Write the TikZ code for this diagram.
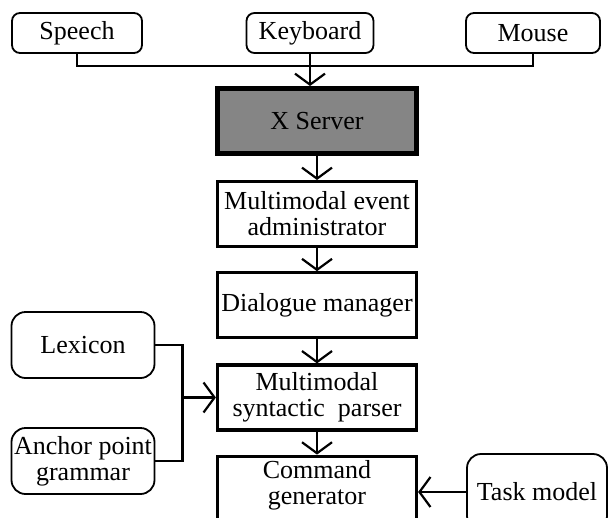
\documentclass[tikz,border=0pt]{standalone}
\usepackage{fontspec}
\setmainfont{Liberation Serif}
\usetikzlibrary{positioning,arrows.meta}

\begin{document}
\begin{tikzpicture}[
  x=1pt, y=1pt,
  every node/.style={font=\fontsize{26}{26}\selectfont},
  device/.style={draw, line width=1.8pt, rounded corners=8pt,
                 minimum height=40pt, inner sep=2pt},
  resource/.style={draw, line width=1.8pt, rounded corners=14pt,
                   minimum width=143pt, minimum height=66pt,
                   align=center, inner sep=0pt},
  module/.style={draw, line width=3.2pt, minimum width=199pt,
                 minimum height=65pt, align=center, inner sep=0pt},
  server/.style={module, line width=5pt, fill=black!48},
  link/.style={line width=2.2pt},
  arr/.style={link, -{Straight Barb[length=11pt, width=30pt]}}
]
  \path[use as bounding box, clip] (0,0) rectangle (609,-517);

  \node[device, minimum width=130pt] (speech) at (77,-33)  {Speech};
  \node[device, minimum width=127pt] (kbd)    at (310,-33) {Keyboard};
  \node[device, minimum width=134pt] (mouse)  at (533,-33) {Mouse};

  \node[server] (xsrv) at (317,-121) {X Server};
  \node[module, below=24pt of xsrv]   (mea)    {Multimodal event\\administrator};
  \node[module, below=23pt of mea]    (dlg)    {Dialogue manager};
  \node[module, below=24pt of dlg]    (parser) {Multimodal\\syntactic\ \ parser};
  \node[module, below=23pt of parser, inner ysep=3pt] (cmd)
    {Command\\generator\rule[-13pt]{0pt}{0pt}};

  \node[resource] (lex)  at (83,-345) {Lexicon};
  \node[resource] (apg)  at (83,-461) {Anchor point\\grammar};
  \node[resource, minimum width=140pt, minimum height=76pt] (task) at (537,-492) {Task model};

  \draw[link] (speech.south) -- ++(0,-12) -| (mouse.south);
  \draw[arr] (kbd.south) -- (kbd.south |- xsrv.north);

  \draw[arr] (xsrv) -- (mea);
  \draw[arr] (mea) -- (dlg);
  \draw[arr] (dlg) -- (parser);
  \draw[arr] (parser) -- (cmd.north);

  \coordinate[right=27pt of lex.east] (lexjoin);
  \coordinate[right=27pt of apg.east] (apgjoin);
  \draw[link] (lex.east) -- (lexjoin) -- (apgjoin) -- (apg.east);
  \draw[arr] (lexjoin |- parser.west) -- (parser.west);

  \draw[arr] (task.west) -- (task.west -| cmd.east);
\end{tikzpicture}
\end{document}
